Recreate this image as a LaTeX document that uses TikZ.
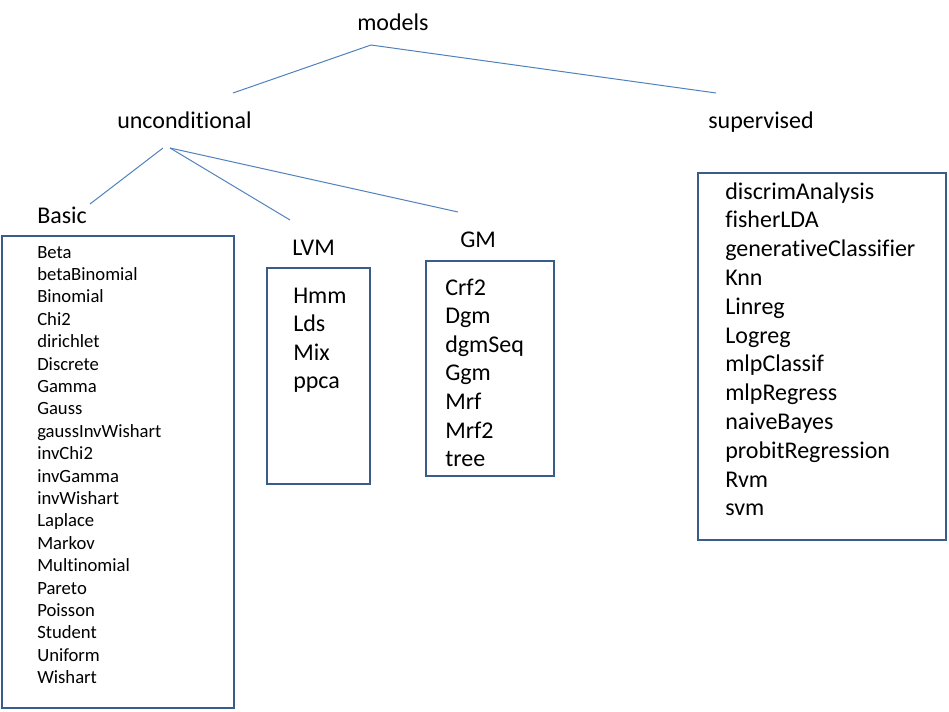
\documentclass[tikz,border=0pt]{standalone}
\usepackage{fontspec}
\setmainfont{Carlito}[Ligatures=NoCommon]
\definecolor{linkblue}{HTML}{4F81BD}
\definecolor{boxblue}{HTML}{385D8A}
\begin{document}
\begin{tikzpicture}[x=0.75pt,y=-0.75pt,
    link/.style={draw=linkblue,line width=0.75pt},
    box/.style={draw=boxblue,line width=2.1pt},
    big/.style={anchor=base west,inner sep=0pt,font=\fontsize{18}{21.6}\selectfont},
    small/.style={anchor=base west,inner sep=0pt,font=\fontsize{14}{16.8}\selectfont}]
    \useasboundingbox (0,0) rectangle (949,711);
    % headings
    \node[big] (models) at (357,30) {models};
    \node[big] (uncond) at (117,128) {unconditional};
    \node[big] (superv) at (708,128) {supervised};
    \node[big] (basic) at (37,223) {Basic};
    \node[big] (lvm) at (292,255) {LVM};
    \node[big] (gm) at (460,247) {GM};
    % line ends
    \coordinate (models-out) at (371,45);
    \coordinate (uncond-in) at (233,93);
    \coordinate (superv-in) at (716,93);
    \coordinate (uncond-out) at (170,148);
    \coordinate (uncond-out2) at (163,148);
    \coordinate (basic-in) at (90,204);
    \coordinate (lvm-in) at (290,220);
    \coordinate (gm-in) at (458,212);
    \draw[link] (models-out) -- (uncond-in);
    \draw[link] (models-out) -- (superv-in);
    \draw[link] (uncond-out2) -- (basic-in);
    \draw[link] (uncond-out) -- (lvm-in);
    \draw[link] (uncond-out) -- (gm-in);
    % boxes
    \draw[box] (2,236) rectangle (234,708);
    \draw[box] (267,268) rectangle (370,484);
    \draw[box] (426,261) rectangle (554,476);
    \draw[box] (698,173) rectangle (946,540);
    % lists
    \foreach \name [count=\i from 0] in {Beta,betaBinomial,Binomial,Chi2,dirichlet,Discrete,Gamma,Gauss,gaussInvWishart,invChi2,invGamma,invWishart,Laplace,Markov,Multinomial,Pareto,Poisson,Student,Uniform,Wishart}
        \node[small] (basic-\i) at (37,258+22.4*\i) {\name};
    \foreach \name [count=\i from 0] in {Hmm,Lds,Mix,ppca}
        \node[big] (lvm-\i) at (293,303+28.6*\i) {\name};
    \foreach \name [count=\i from 0] in {Crf2,Dgm,dgmSeq,Ggm,Mrf,Mrf2,tree}
        \node[big] (gm-\i) at (445,295+28.6*\i) {\name};
    \foreach \name [count=\i from 0] in {discrimAnalysis,fisherLDA,generativeClassifier,Knn,Linreg,Logreg,mlpClassif,mlpRegress,naiveBayes,probitRegression,Rvm,svm}
        \node[big] (sup-\i) at (725,199+28.8*\i) {\name};
\end{tikzpicture}
\end{document}
